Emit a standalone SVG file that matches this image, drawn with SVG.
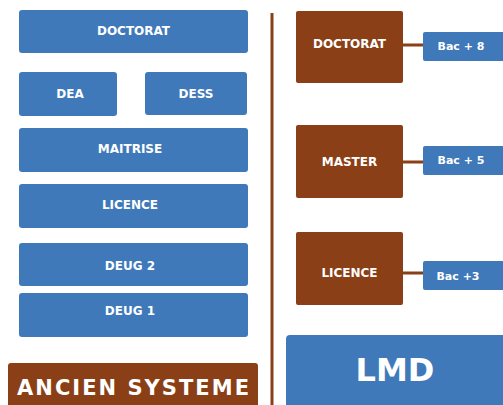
<svg xmlns="http://www.w3.org/2000/svg" width="503" height="405" viewBox="0 0 503 405">
<style>
.b{fill:#3f79b9}
.r{fill:#8a3f16}
text{font-family:"DejaVu Sans","Liberation Sans",sans-serif;font-weight:bold;fill:#fff;text-anchor:middle}
.s{font-size:12px}
.c{stroke:#8a3f16;stroke-width:3}
</style>
<rect width="503" height="405" fill="#fff"/>
<g id="doctorat-old"><rect class="b" x="19" y="10" width="229" height="43" rx="3"/><text class="s" x="133.5" y="35">DOCTORAT</text></g>
<g id="dea"><rect class="b" x="19" y="72" width="98" height="44" rx="3"/><text class="s" x="70" y="98">DEA</text></g>
<g id="dess"><rect class="b" x="145" y="72" width="102" height="43" rx="3"/><text class="s" x="196" y="98">DESS</text></g>
<g id="maitrise"><rect class="b" x="19" y="128" width="229" height="44" rx="3"/><text class="s" x="130" y="153">MAITRISE</text></g>
<g id="licence-old"><rect class="b" x="19" y="184" width="229" height="44" rx="3"/><text class="s" x="130" y="209">LICENCE</text></g>
<g id="deug2"><rect class="b" x="19" y="243" width="229" height="43" rx="3"/><text class="s" x="130" y="270">DEUG 2</text></g>
<g id="deug1"><rect class="b" x="19" y="293" width="229" height="44" rx="3"/><text class="s" x="130" y="315">DEUG 1</text></g>
<g id="ancien"><rect class="r" x="8" y="363" width="250" height="50" rx="3"/><text x="133" y="395" font-size="21" textLength="232">ANCIEN SYSTEME</text></g>
<g id="connectors">
<line class="c" x1="272" y1="13" x2="272" y2="405" stroke-width="2.5"/>
<line class="c" x1="403" y1="45" x2="424" y2="45"/>
<line class="c" x1="403" y1="162" x2="424" y2="162"/>
<line class="c" x1="403" y1="273" x2="424" y2="273"/>
</g>
<g id="doctorat"><rect class="r" x="296" y="11" width="107" height="72" rx="2"/><text class="s" x="349.5" y="48">DOCTORAT</text></g>
<g id="master"><rect class="r" x="296" y="125" width="107" height="73" rx="2"/><text class="s" x="349.5" y="166">MASTER</text></g>
<g id="licence"><rect class="r" x="296" y="232" width="107" height="73" rx="2"/><text class="s" x="349.5" y="277">LICENCE</text></g>
<g id="bac8"><rect class="b" x="423" y="32" width="90" height="29" rx="2"/><text x="461" y="50" font-size="11">Bac + 8</text></g>
<g id="bac5"><rect class="b" x="423" y="146" width="90" height="29" rx="2"/><text x="461" y="164" font-size="11">Bac + 5</text></g>
<g id="bac3"><rect class="b" x="423" y="261" width="90" height="29" rx="2"/><text x="458" y="280" font-size="11">Bac +3</text></g>
<g id="lmd"><rect class="b" x="286" y="335" width="230" height="80" rx="4"/><text x="395" y="381" font-size="32">LMD</text></g>
</svg>
